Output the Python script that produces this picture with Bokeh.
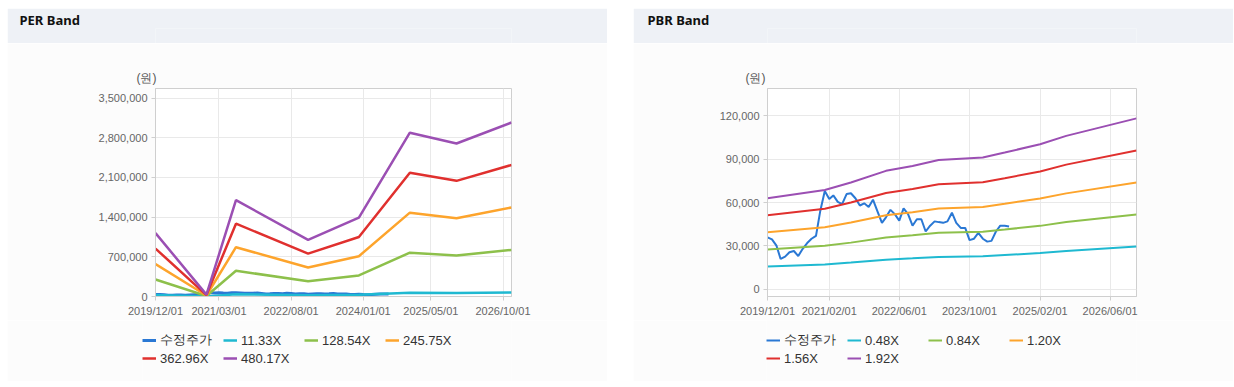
import pandas as pd
from bokeh.plotting import figure
from bokeh.models import (Range1d, FixedTicker, NumeralTickFormatter, DatetimeTickFormatter,
                          Legend, LegendItem, Spacer)
from bokeh.layouts import row, column
from bokeh.embed import file_html
from bokeh.resources import INLINE

# ---------------- data ----------------
price_label = "수정주가"
price_start = "2019-12-01"
price_values = [35900, 34500, 30200, 21000, 22600, 25600, 26500, 23000, 28000, 32000, 35000, 37000,
                54400, 68000, 62500, 65000, 60500, 59000, 65900, 66500, 63000, 58000, 59500, 57000,
                62000, 54000, 46000, 49800, 55000, 52000, 47500, 56000, 52000, 44000, 48500, 48500,
                40000, 44000, 47000, 46500, 46000, 47000, 53000, 46000, 42500, 42500, 34000, 35000,
                39000, 35000, 33000, 33500, 40000, 44000, 44000, 43500]

per_dates = ["2019-12-01", "2020-12-01", "2021-07-01", "2022-12-01", "2023-12-01",
             "2024-12-01", "2025-11-01", "2026-12-01"]
per_labels = ["11.33X", "128.54X", "245.75X", "362.96X", "480.17X"]
per_11_33 = [26400, 800, 40100, 23600, 32800, 68200, 63700, 72400]
per_128_54 = [299500, 9000, 455000, 267700, 372100, 773700, 722800, 821900]
per_245_75 = [572600, 17200, 870000, 511900, 711400, 1479200, 1381900, 1571300]
per_362_96 = [845700, 25400, 1284900, 756000, 1050800, 2184700, 2040900, 2320800]
per_480_17 = [1118800, 33600, 1699800, 1000200, 1390100, 2890100, 2700000, 3070200]

pbr_dates = ["2019-12-01", "2021-01-01", "2021-07-01", "2022-03-01", "2022-09-01", "2023-03-01",
             "2024-01-01", "2024-06-01", "2025-02-01", "2025-08-01", "2026-12-01"]
pbr_labels = ["0.48X", "0.84X", "1.20X", "1.56X", "1.92X"]
pbr_0_48 = [15700, 17200, 18500, 20500, 21400, 22400, 22800, 23700, 25100, 26500, 29600]
pbr_0_84 = [27600, 30100, 32300, 35900, 37400, 39100, 39900, 41400, 43900, 46500, 51700]
pbr_1_20 = [39400, 43000, 46200, 51200, 53400, 55900, 57000, 59200, 62800, 66400, 73900]
pbr_1_56 = [51200, 55800, 60100, 66600, 69400, 72700, 74100, 76900, 81600, 86300, 96100]
pbr_1_92 = [63000, 68700, 73900, 82000, 85400, 89500, 91200, 94700, 100400, 106200, 118300]

per_xticks = ["2019-12-01", "2021-03-01", "2022-08-01", "2024-01-01", "2025-05-01", "2026-10-01"]
pbr_xticks = ["2019-12-01", "2021-02-01", "2022-06-01", "2023-10-01", "2025-02-01", "2026-06-01"]
per_yticks = [0, 700000, 1400000, 2100000, 2800000, 3500000]
pbr_yticks = [0, 30000, 60000, 90000, 120000]
x_start, x_end = "2019-12-01", "2026-12-01"

colors = ["#2a78d4", "#1fb9d1", "#8dc04b", "#fda42c", "#e0302e", "#9b4fb3"]

FONT = "Liberation Sans"
PANEL_BG = "#fcfcfc"
W = 600


def ms(d):
    return pd.Timestamp(d).timestamp() * 1000.0


def strip(f):
    f.grid.visible = False
    f.outline_line_color = None
    return f


def line_fig(h, color):
    b = figure(width=W, height=h, output_backend="svg", toolbar_location=None,
               x_range=Range1d(0, 1), y_range=Range1d(0, 1), min_border=0,
               x_axis_location=None, y_axis_location=None)
    strip(b)
    b.background_fill_color = color
    b.border_fill_color = color
    return b


def header(title, tx, L, R):
    h = figure(width=W, height=35, output_backend="svg", toolbar_location=None,
               x_range=Range1d(0, 1), y_range=Range1d(0, 1), title=title,
               min_border_left=L, min_border_right=R, min_border_top=0, min_border_bottom=0,
               x_axis_location=None, y_axis_location=None)
    strip(h)
    h.background_fill_color = "#eef1f6"
    h.border_fill_color = "#eef1f6"
    h.title.align = "left"
    h.title.offset = tx - L
    h.title.text_font = "Noto Sans"
    h.title.text_font_size = "13px"
    h.title.text_font_style = "bold"
    h.title.text_color = "#111111"
    h.title.standoff = 0
    return h


def legend_fig(labels, lw_price, lw, L, R):
    f = figure(width=W, height=61, output_backend="svg", toolbar_location=None,
               x_range=Range1d(0, 1), y_range=Range1d(0, 1),
               min_border_left=L, min_border_right=R, min_border_top=0, min_border_bottom=0,
               x_axis_location=None, y_axis_location=None)
    strip(f)
    f.background_fill_color = PANEL_BG
    f.border_fill_color = PANEL_BG
    nan = float("nan")
    rs = [f.line(x=[0], y=[nan], line_color=colors[0], line_width=lw_price)]
    for i in range(len(labels)):
        rs.append(f.line(x=[0], y=[nan], line_color=colors[i + 1], line_width=lw))
    names = [price_label] + labels
    items = [LegendItem(label=n, renderers=[r]) for n, r in zip(names, rs)]
    leg = Legend(items=items, ncols=4, orientation="horizontal", location=(0, 14),
                 background_fill_alpha=0, border_line_color=None, padding=0, margin=0,
                 spacing=0, glyph_width=14, glyph_height=18, label_height=18,
                 label_width=63, label_standoff=4, label_text_font=FONT,
                 label_text_font_size="13px", label_text_color="#333333")
    f.add_layout(leg, "center")
    return f


def chart(dates, series, lw_price, lw, ymax, ymin, yticks, xticks, L, R, unit_off):
    p = figure(width=W, height=277, output_backend="svg", toolbar_location=None,
               x_axis_type="datetime", title="(원)",
               x_range=Range1d(pd.Timestamp(x_start), pd.Timestamp(x_end)),
               y_range=Range1d(ymin, ymax),
               min_border_left=L, min_border_right=R,
               min_border_top=45, min_border_bottom=24)
    p.background_fill_color = "white"
    p.border_fill_color = PANEL_BG
    p.outline_line_color = "#cfcfcf"
    p.grid.grid_line_color = "#e9e9e9"

    p.title.align = "left"
    p.title.offset = unit_off
    p.title.text_font = FONT
    p.title.text_font_size = "12px"
    p.title.text_font_style = "normal"
    p.title.text_color = "#555555"
    p.title.standoff = 8

    price_dates = pd.date_range(price_start, periods=len(price_values), freq="MS")
    p.line(price_dates, price_values, line_color=colors[0], line_width=lw_price)
    d = pd.to_datetime(dates)
    for i, s in enumerate(series):
        p.line(d, s, line_color=colors[i + 1], line_width=lw)

    for ax in (p.xaxis[0], p.yaxis[0]):
        ax.axis_line_color = "#cfcfcf"
        ax.major_tick_line_color = "#cfcfcf"
        ax.major_tick_in = 0
        ax.major_tick_out = 4
        ax.minor_tick_line_color = None
        ax.major_label_text_font = FONT
        ax.major_label_text_font_size = "11px"
        ax.major_label_text_color = "#666666"
        ax.major_label_standoff = 4
    p.xaxis[0].ticker = FixedTicker(ticks=[ms(t) for t in xticks])
    fmt = "%Y/%m/%d"
    p.xaxis[0].formatter = DatetimeTickFormatter(
        microseconds=fmt, milliseconds=fmt, seconds=fmt, minsec=fmt, minutes=fmt,
        hourmin=fmt, hours=fmt, days=fmt, months=fmt, years=fmt)
    p.yaxis[0].ticker = FixedTicker(ticks=yticks)
    p.yaxis[0].formatter = NumeralTickFormatter(format="0,0")
    return p


PER_L, PER_R = 148, 96
PBR_L, PBR_R = 134, 97

per_chart = chart(per_dates, [per_11_33, per_128_54, per_245_75, per_362_96, per_480_17],
                  3, 2.5, 3670000, 0, per_yticks, per_xticks, PER_L, PER_R, -19)
pbr_chart = chart(pbr_dates, [pbr_0_48, pbr_0_84, pbr_1_20, pbr_1_56, pbr_1_92],
                  2, 2, 139000, -5000, pbr_yticks, pbr_xticks, PBR_L, PBR_R, -22)

left = column(line_fig(1, "#d6d6d6"), header("PER Band", 12, PER_L, PER_R), per_chart,
              row(legend_fig(per_labels, 3, 2.5, PER_L - 13, PER_R)), line_fig(2, "#d3d3d3"))
right = column(line_fig(1, "#d6d6d6"), header("PBR Band", 14, PBR_L, PBR_R), pbr_chart,
               row(legend_fig(pbr_labels, 2, 2, PBR_L - 1, PBR_R)), line_fig(2, "#d3d3d3"))
layout = column(Spacer(height=7), row(Spacer(width=7), left, Spacer(width=26), right))

open("out.html", "w").write(file_html(layout, INLINE))
